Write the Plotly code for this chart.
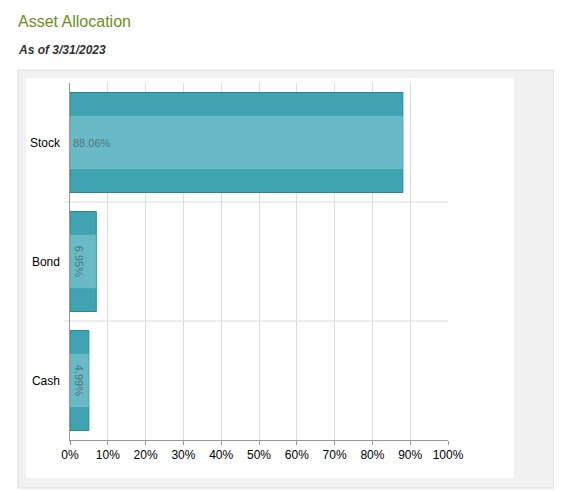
import plotly.graph_objects as go

# --- Data ---
categories = ["Stock", "Bond", "Cash"]
values = [88.06, 6.95, 4.99]
tick_vals = [0, 10, 20, 30, 40, 50, 60, 70, 80, 90, 100]
tick_text = [f"{v}%" for v in tick_vals]
labels = [f"{v:.2f}%" for v in values]

# --- Pixel helpers for plot-area-relative paper coords ---
L, R, T, B = 62, 440, 75, 432
def px(x):
    return (x - L) / (R - L)
def py(y):
    return (B - y) / (B - T)

fig = go.Figure()
# base bar
fig.add_trace(go.Bar(
    y=categories, x=values, orientation="h", width=0.84,
    marker=dict(color="#3fa3b2", line=dict(color="#2a8593", width=1)),
    text=labels, textposition="inside", insidetextanchor="start",
    textfont=dict(color="black", size=11, family="Arial"),
    hoverinfo="skip", showlegend=False,
))
# highlight band to mimic the gradient
fig.add_trace(go.Bar(
    y=categories, x=values, orientation="h", width=0.45,
    marker=dict(color="rgba(140,205,215,0.55)", line=dict(width=0)),
    hoverinfo="skip", showlegend=False,
))

shapes = [
    dict(type="rect", xref="paper", yref="paper", x0=px(10), x1=px(546), y0=py(480), y1=py(62),
         fillcolor="#f1f1f1", line=dict(color="#dddddd", width=1), layer="below"),
    dict(type="rect", xref="paper", yref="paper", x0=px(18), x1=px(506), y0=py(470), y1=py(70),
         fillcolor="white", line=dict(width=0), layer="below"),
]
for yb in [0.5, 1.5]:
    shapes.append(dict(type="line", xref="paper", yref="y", x0=-0.015, x1=1, y0=yb, y1=yb,
                       line=dict(color="#dddddd", width=1), layer="below"))

fig.update_layout(
    width=562, height=491,
    margin=dict(l=L, r=562 - R, t=T, b=491 - B),
    paper_bgcolor="white", plot_bgcolor="white",
    barmode="overlay",
    font=dict(family="Arial", size=12, color="black"),
    xaxis=dict(range=[0, 100], tickvals=tick_vals, ticktext=tick_text,
               showgrid=True, gridcolor="#dddddd", zeroline=False,
               showline=True, linecolor="#999999", ticks="outside", ticklen=4,
               tickcolor="#999999", fixedrange=True),
    yaxis=dict(categoryorder="array", categoryarray=categories[::-1],
               range=[-0.5, 2.5], showgrid=False, zeroline=False,
               showline=True, linecolor="#999999", ticks="", ticksuffix="  ",
               tickfont=dict(size=12), fixedrange=True),
    shapes=shapes,
    annotations=[
        dict(text="Asset Allocation", xref="paper", yref="paper", x=px(8), y=py(14),
             xanchor="left", yanchor="middle", showarrow=False,
             font=dict(size=16, color="#6b8e23", family="Arial")),
        dict(text="<b><i>As of 3/31/2023</i></b>", xref="paper", yref="paper", x=px(8), y=py(42),
             xanchor="left", yanchor="middle", showarrow=False,
             font=dict(size=12, color="#333333", family="Arial")),
    ],
)

fig.write_html("out.html")
